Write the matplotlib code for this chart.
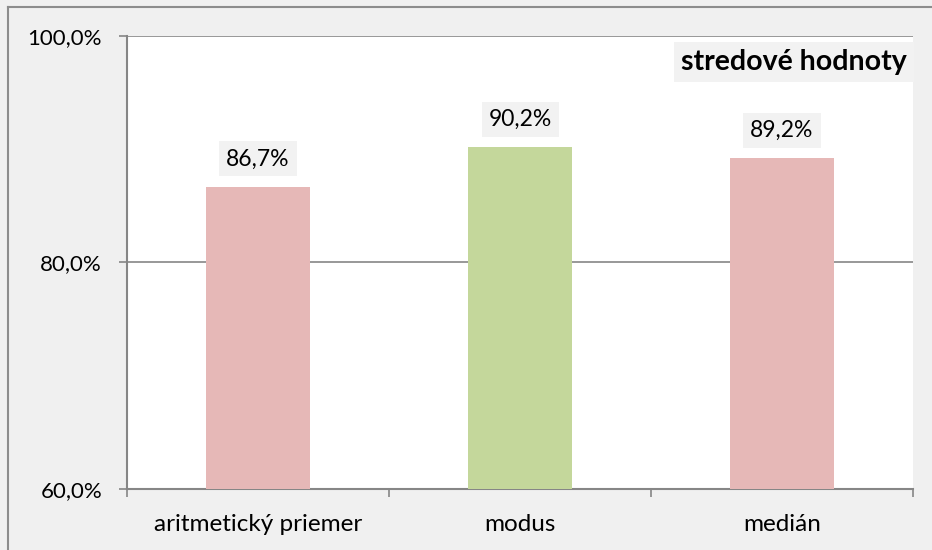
import matplotlib
matplotlib.use("Agg")
import matplotlib.pyplot as plt
from matplotlib.ticker import FuncFormatter

categories = ["aritmetický priemer", "modus", "medián"]
values = [86.7, 90.2, 89.2]
bar_colors = ["#E6B8B7", "#C4D79B", "#E6B8B7"]
title = "stredové hodnoty"

plt.rcParams['font.family'] = ['Lato', 'DejaVu Sans']

fig = plt.figure(figsize=(9.32, 5.5), dpi=100)
fig.patch.set_facecolor("#F0F0F0")
W, H = 932, 550
ax = fig.add_axes([127 / W, 1 - 489 / H, (913 - 127) / W, (489 - 36) / H])
ax.set_facecolor("white")

# figure border lines (left and top)
fig.add_artist(plt.Line2D([8 / W, 8 / W], [0, 1 - 7 / H], color="#8C8C8C", lw=1.5, transform=fig.transFigure))
fig.add_artist(plt.Line2D([8 / W, 1], [1 - 7 / H, 1 - 7 / H], color="#8C8C8C", lw=1.5, transform=fig.transFigure))

x = range(len(categories))
bars = ax.bar(x, values, width=0.4, color=bar_colors, zorder=3)
ax.set_xlim(-0.5, len(categories) - 0.5)
ax.set_ylim(60, 100)
ax.set_yticks([60, 80, 100])
ax.yaxis.set_major_formatter(FuncFormatter(lambda v, p: f"{v:.1f}%".replace(".", ",")))
ax.yaxis.grid(True, color="#868686", lw=1.2, zorder=1)

ax.set_xticks([i - 0.5 for i in range(len(categories) + 1)], minor=False)
ax.set_xticklabels([""] * (len(categories) + 1))
ax.set_xticks(list(x), minor=True)
ax.set_xticklabels(categories, minor=True)
ax.tick_params(axis="x", which="minor", length=0, pad=18, labelsize=17.5)
ax.tick_params(axis="x", which="major", length=6, width=1.2, color="#868686", direction="out")
ax.tick_params(axis="y", length=6, width=1.2, color="#868686", direction="out", labelsize=16, pad=12)

for s in ["top", "right"]:
    ax.spines[s].set_visible(False)
for s in ["left", "bottom"]:
    ax.spines[s].set_color("#868686")
    ax.spines[s].set_linewidth(1.5)

for i, v in enumerate(values):
    ax.annotate(f"{v:.1f}%".replace(".", ","), (i, v), xytext=(0, 20), textcoords="offset points",
                ha="center", va="center", fontsize=16.5, zorder=5,
                bbox=dict(boxstyle="square,pad=0.3", fc="#F2F2F2", ec="none"))

ax.text(0.992, 0.943, title, transform=ax.transAxes, ha="right", va="center", fontsize=20.5,
        fontweight="bold", zorder=5,
        bbox=dict(boxstyle="square,pad=0.25", fc="#F2F2F2", ec="none"))

fig.savefig("out.png", dpi=100, facecolor=fig.get_facecolor())
